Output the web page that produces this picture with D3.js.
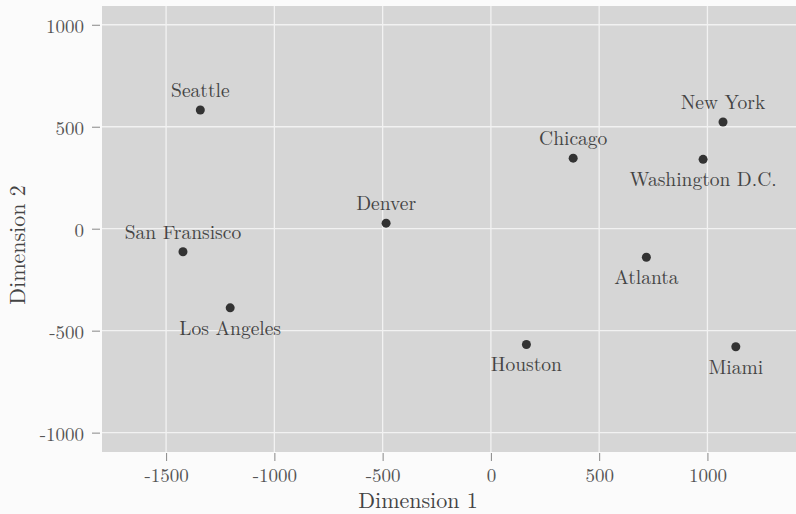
<!DOCTYPE html>
<html>
<head>
<meta charset="utf-8">
<script src="https://cdn.jsdelivr.net/npm/d3@7"></script>
<style>
  body { margin: 0; background: #fbfbfb; }
  text { font-family: "Latin Modern Roman", "DejaVu Serif", "Liberation Serif", serif; }
</style>
</head>
<body>
<div id="chart"></div>
<script>
// City names and their positions on the two MDS dimensions
var cities = ["Seattle", "New York", "Washington D.C.", "Chicago", "Denver",
    "San Fransisco", "Los Angeles", "Atlanta", "Houston", "Miami"];
var dim1 = [-1342, 1072, 980, 380, -484, -1422, -1204, 718, 164, 1131];
var dim2 = [582, 523, 340, 346, 27, -113, -388, -140, -568, -579];
// label above (1) or below (-1) the point
var labelSide = [1, 1, -1, 1, 1, 1, -1, -1, -1, -1];

var xTicks = [-1500, -1000, -500, 0, 500, 1000];
var yTicks = [-1000, -500, 0, 500, 1000];

var w = 796, h = 514;
var panel = { left: 102, top: 6, right: 796, bottom: 452 };

var xScale = d3.scaleLinear()
    .domain([-1796, 1409])
    .range([panel.left, panel.right]);

var yScale = d3.scaleLinear()
    .domain([-1095, 1092])
    .range([panel.bottom, panel.top]);

var svg = d3.select("#chart")
    .append("svg")
    .attr("width", w)
    .attr("height", h);

// grey panel
svg.append("rect")
    .attr("x", panel.left)
    .attr("y", panel.top)
    .attr("width", panel.right - panel.left)
    .attr("height", panel.bottom - panel.top)
    .attr("fill", "#d6d6d6");

// gridlines
svg.selectAll(".vgrid")
    .data(xTicks)
    .enter()
    .append("line")
    .attr("x1", function(d) { return xScale(d); })
    .attr("x2", function(d) { return xScale(d); })
    .attr("y1", panel.top)
    .attr("y2", panel.bottom)
    .attr("stroke", "#f2f2f2")
    .attr("stroke-width", 1.3);

svg.selectAll(".hgrid")
    .data(yTicks)
    .enter()
    .append("line")
    .attr("y1", function(d) { return yScale(d); })
    .attr("y2", function(d) { return yScale(d); })
    .attr("x1", panel.left)
    .attr("x2", panel.right)
    .attr("stroke", "#f2f2f2")
    .attr("stroke-width", 1.3);

// axes: ticks and labels only, no domain line
var xAxis = d3.axisBottom(xScale)
    .tickValues(xTicks)
    .tickSize(8)
    .tickPadding(8)
    .tickFormat(d3.format("d"));

var yAxis = d3.axisLeft(yScale)
    .tickValues(yTicks)
    .tickSize(8)
    .tickPadding(8)
    .tickFormat(d3.format("d"));

var gx = svg.append("g")
    .attr("transform", "translate(0," + (panel.bottom + 1) + ")")
    .call(xAxis);

var gy = svg.append("g")
    .attr("transform", "translate(" + (panel.left - 2) + ",0)")
    .call(yAxis);

[gx, gy].forEach(function(g) {
    g.select(".domain").remove();
    g.selectAll(".tick line").attr("stroke", "#888");
    g.selectAll(".tick text")
        .attr("fill", "#555")
        .style("font-size", "19px")
        .text(function(d) { return d < 0 ? "-" + Math.abs(d) : d; });
});
gy.selectAll(".tick text").attr("dy", "0.42em");

// axis titles
svg.append("text")
    .attr("x", 418)
    .attr("y", 508)
    .attr("text-anchor", "middle")
    .attr("fill", "#444")
    .style("font-size", "22px")
    .text("Dimension 1");

svg.append("text")
    .attr("transform", "translate(25,245) rotate(-90)")
    .attr("text-anchor", "middle")
    .attr("fill", "#444")
    .style("font-size", "22px")
    .text("Dimension 2");

// points
svg.selectAll(".pt")
    .data(cities)
    .enter()
    .append("circle")
    .attr("cx", function(d, i) { return xScale(dim1[i]); })
    .attr("cy", function(d, i) { return yScale(dim2[i]); })
    .attr("r", 4.5)
    .attr("fill", "#333");

// city labels
svg.selectAll(".lbl")
    .data(cities)
    .enter()
    .append("text")
    .attr("x", function(d, i) { return xScale(dim1[i]); })
    .attr("y", function(d, i) { return yScale(dim2[i]) - labelSide[i] * 20; })
    .attr("dy", "0.35em")
    .attr("text-anchor", "middle")
    .attr("fill", "#444")
    .style("font-size", "19.5px")
    .text(function(d) { return d; });
</script>
</body>
</html>
